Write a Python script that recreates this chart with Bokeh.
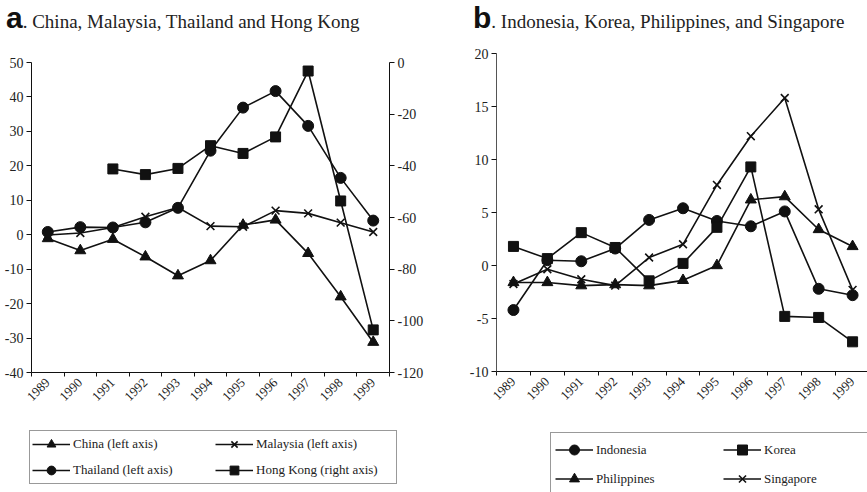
import math
import numpy as np
from bokeh.plotting import figure
from bokeh.models import (Range1d, LinearAxis, FixedTicker, Legend, LegendItem, Div)
from bokeh.layouts import row, column
from bokeh.embed import file_html
from bokeh.resources import INLINE

years = ["1989", "1990", "1991", "1992", "1993", "1994", "1995", "1996", "1997", "1998", "1999"]

# Panel a (left axis: China, Malaysia, Thailand; right axis: Hong Kong)
china = [-1.1, -4.6, -1.3, -6.4, -11.9, -7.5, 2.8, 4.3, -5.4, -18.0, -31.2]
malaysia = [-0.1, 0.5, 2.1, 5.2, 7.9, 2.5, 2.3, 7.0, 6.2, 3.5, 0.8]
thailand = [0.8, 2.2, 2.1, 3.6, 7.8, 24.4, 36.9, 41.7, 31.6, 16.5, 4.1]
hongkong = [np.nan, np.nan, -41.2, -43.4, -41.0, -32.2, -35.2, -28.8, -3.3, -53.6, -103.5]

left_ticks_a = [-40, -30, -20, -10, 0, 10, 20, 30, 40, 50]
right_ticks_a = [-120, -100, -80, -60, -40, -20, 0]

# Panel b
indonesia = [-4.2, 0.5, 0.4, 1.6, 4.3, 5.4, 4.2, 3.7, 5.1, -2.2, -2.8]
korea = [1.8, 0.65, 3.1, 1.7, -1.45, 0.2, 3.6, 9.3, -4.8, -4.9, -7.2]
philippines = [-1.6, -1.6, -1.9, -1.8, -1.9, -1.4, 0.0, 6.2, 6.5, 3.4, 1.8]
singapore = [-1.75, -0.35, -1.3, -1.9, 0.75, 2.0, 7.6, 12.2, 15.8, 5.3, -2.3]

left_ticks_b = [-10, -5, 0, 5, 10, 15, 20]

INK = "#111111"
SERIF = "Liberation Serif"
xs = [i + 0.5 for i in range(len(years))]


def style_axis(ax, ticks):
    ax.axis_line_color = INK
    ax.axis_line_width = 1
    ax.major_tick_line_color = INK
    ax.major_tick_in = 0
    ax.major_tick_out = 5
    ax.minor_tick_line_color = None
    ax.major_label_text_font = SERIF
    ax.major_label_text_font_size = "14px"
    ax.major_label_text_color = "#222222"
    ax.major_label_standoff = 3
    ax.ticker = FixedTicker(ticks=ticks)
    ax.major_label_overrides = {t: str(t) for t in ticks}


def style_xaxis(ax):
    ax.axis_line_color = INK
    ax.ticker = FixedTicker(ticks=xs, minor_ticks=list(range(len(years) + 1)))
    ax.major_label_overrides = {x: y for x, y in zip(xs, years)}
    ax.major_tick_in = 0
    ax.major_tick_out = 0
    ax.minor_tick_in = 0
    ax.minor_tick_out = 4
    ax.minor_tick_line_color = INK
    ax.major_label_orientation = math.pi / 4
    ax.major_label_text_font = SERIF
    ax.major_label_text_font_size = "13px"
    ax.major_label_text_color = "#222222"
    ax.major_label_standoff = 4


def series(p, x, ys, marker, size, range_name="default"):
    kw = {} if range_name == "default" else {"y_range_name": range_name}
    ln = p.line(x, ys, line_color=INK, line_width=1.6, **kw)
    if marker == "x":
        sc = p.scatter(x, ys, marker="x", size=size, line_color=INK, line_width=1.6, **kw)
    else:
        sc = p.scatter(x, ys, marker=marker, size=size, line_color=INK, fill_color=INK, line_width=1, **kw)
    return [ln, sc]


def header(letter, text, pad_left, width):
    html = (
        '<div style="white-space:nowrap;font-family:\'Liberation Serif\';font-size:19px;'
        'line-height:17px;height:36px;box-sizing:border-box;padding-top:9px;padding-left:%dpx;color:#222">'
        '<span style="font-family:\'Liberation Sans\';font-weight:bold;font-size:30px;'
        'line-height:17px;color:#111">%s</span>%s</div>' % (pad_left, letter, text)
    )
    return Div(text=html, width=width, height=36, margin=(0, 0, 0, 0))


def legend_fig(width, height, specs, names, loc, glyph_h, spacing, padding, label_w):
    # the series are drawn far outside the visible range: only the legend shows
    lf = figure(width=width, height=height, output_backend="svg", toolbar_location=None,
                x_range=Range1d(100, 101), y_range=Range1d(100, 101), frame_align=False,
                min_border_left=0, min_border_right=0, min_border_top=0, min_border_bottom=0,
                x_axis_location=None, y_axis_location=None)
    lf.outline_line_color = None
    lf.xgrid.visible = False
    lf.ygrid.visible = False
    items = []
    for (ys, marker, size), name in zip(specs, names):
        rs = series(lf, xs, ys, marker, size)
        items.append(LegendItem(label=name, renderers=rs))
    leg = Legend(items=items, location=loc, orientation="horizontal", ncols=2, margin=0,
                 glyph_width=38, glyph_height=glyph_h, label_height=glyph_h, label_width=label_w,
                 label_standoff=3, spacing=spacing, padding=padding,
                 label_text_font=SERIF, label_text_font_size="13px", label_text_color="#222222",
                 border_line_color="#333333", border_line_width=1, background_fill_alpha=0)
    lf.add_layout(leg, "center")
    return lf


W_A, W_B = 433, 434
H_MAIN, H_LEG = 381, 75

# ---------------- Panel a ----------------
pa = figure(width=W_A, height=H_MAIN, output_backend="svg", toolbar_location=None,
            x_range=Range1d(0, 11), y_range=Range1d(-40, 50), frame_align=False,
            min_border_left=31, min_border_right=44, min_border_top=26, min_border_bottom=45,
            x_axis_location=None, y_axis_location=None)
pa.outline_line_color = None
pa.xgrid.visible = False
pa.ygrid.visible = False
pa.extra_y_ranges = {"hk": Range1d(-120, 0)}

ax_l = LinearAxis()
style_axis(ax_l, left_ticks_a)
pa.add_layout(ax_l, "left")
ax_r = LinearAxis(y_range_name="hk")
style_axis(ax_r, right_ticks_a)
pa.add_layout(ax_r, "right")
ax_b = LinearAxis()
style_xaxis(ax_b)
pa.add_layout(ax_b, "below")

series(pa, xs, china, "triangle", 11)
series(pa, xs, malaysia, "x", 11)
series(pa, xs, thailand, "circle", 11)
series(pa, xs, hongkong, "square", 10, "hk")

leg_a = legend_fig(W_A, H_LEG,
                   [(china, "triangle", 11), (malaysia, "x", 11), (thailand, "circle", 11), (hongkong, "square", 10)],
                   ["China (left axis)", "Malaysia (left axis)", "Thailand (left axis)", "Hong Kong (right axis)"],
                   (29, 8), 22, 4, 2, 138)

# ---------------- Panel b ----------------
pb = figure(width=W_B, height=H_MAIN, output_backend="svg", toolbar_location=None,
            x_range=Range1d(0, 10.94), y_range=Range1d(-10, 20), frame_align=False,
            min_border_left=63, min_border_right=0, min_border_top=17, min_border_bottom=46,
            x_axis_location=None, y_axis_location=None)
pb.outline_line_color = None
pb.xgrid.visible = False
pb.ygrid.visible = False

bx_l = LinearAxis()
style_axis(bx_l, left_ticks_b)
bx_l.axis_line_color = "#555555"
pb.add_layout(bx_l, "left")
bx_b = LinearAxis()
style_xaxis(bx_b)
pb.add_layout(bx_b, "below")

series(pb, xs, indonesia, "circle", 11)
series(pb, xs, korea, "square", 10)
series(pb, xs, philippines, "triangle", 11)
series(pb, xs, singapore, "x", 11)

leg_b = legend_fig(W_B, H_LEG,
                   [(indonesia, "circle", 11), (korea, "square", 10), (philippines, "triangle", 11), (singapore, "x", 11)],
                   ["Indonesia", "Korea", "Philippines", "Singapore"],
                   (117, -4), 25, 4, 4, 123)

head_a = header("a", ". China, Malaysia, Thailand and Hong Kong", 6, W_A)
head_b = header("b", ". Indonesia, Korea, Philippines, and Singapore", 40, W_B)

layout = row(column(head_a, pa, leg_a), column(head_b, pb, leg_b))
open("out.html", "w").write(file_html(layout, INLINE))
